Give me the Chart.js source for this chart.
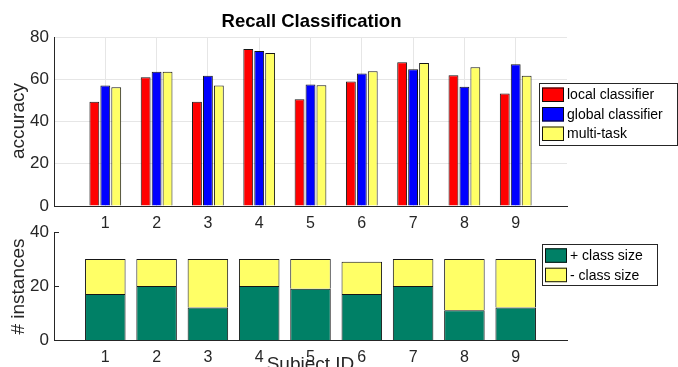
<!DOCTYPE html>
<html>
<head>
<meta charset="utf-8">
<script src="https://cdn.jsdelivr.net/npm/chart.js@4/dist/chart.umd.min.js"></script>
<style>
  html, body { margin: 0; padding: 0; background: #fff; overflow: hidden; }
  #wrap { position: relative; width: 678px; height: 367px; overflow: hidden; }
  canvas { position: absolute; left: 0; }
  #accuracyChart { top: 0; }
  #instancesChart { top: 215px; }
</style>
</head>
<body>
<div id="wrap">
  <canvas id="accuracyChart" width="678" height="235"></canvas>
  <canvas id="instancesChart" width="678" height="152"></canvas>
</div>
<script>
// Subjects and per-subject results
const subjects = [1, 2, 3, 4, 5, 6, 7, 8, 9];
const localClassifier  = [49.3, 60.9, 49.3, 74.3, 50.5, 58.9, 68.0, 61.9, 53.2];
const globalClassifier = [57.0, 63.6, 61.6, 73.4, 57.5, 62.7, 64.7, 56.4, 67.1];
const multiTask        = [56.2, 63.6, 57.0, 72.4, 57.2, 63.8, 67.7, 65.7, 61.6];

// Class sizes per subject
const positiveClassSize = [17, 20, 12, 20, 19, 17, 20, 11, 12];
const negativeClassSize = [13, 10, 18, 10, 11, 12, 10, 19, 18];

// Tick labels
const accuracyTicks = [0, 20, 40, 60, 80];
const instanceTicks = [0, 20, 40];

const FONT = "'Liberation Sans', Arial, Helvetica, sans-serif";
const INK = '#262626';
const GRID = '#e6e6e6';
const EDGE = 'rgba(10,10,10,0.95)';

Chart.defaults.font.family = FONT;
Chart.defaults.font.size = 17;
Chart.defaults.color = INK;
Chart.defaults.animation = false;

const toPoints = (vals) => vals.map((v, i) => ({ x: subjects[i], y: v }));
const setTicks = (list) => (scale) => { scale.ticks = list.map(v => ({ value: v })); };

// Boxed legend drawn from the chart's own datasets
function drawBoxLegend(chart, box) {
  const ctx = chart.ctx;
  ctx.save();
  ctx.fillStyle = '#fff';
  ctx.fillRect(box.x, box.y, box.w, box.h);
  ctx.strokeStyle = INK;
  ctx.lineWidth = 1;
  ctx.strokeRect(box.x + 0.5, box.y + 0.5, box.w - 1, box.h - 1);
  ctx.font = '14px ' + FONT;
  ctx.textBaseline = 'middle';
  ctx.textAlign = 'left';
  chart.data.datasets.forEach((ds, i) => {
    const y = box.y + box.pad + i * box.step;
    ctx.fillStyle = ds.backgroundColor;
    ctx.fillRect(box.x + 3, y, 22, 14.5);
    ctx.strokeStyle = EDGE;
    ctx.strokeRect(box.x + 3.5, y + 0.5, 21, 13.5);
    ctx.fillStyle = '#000';
    ctx.fillText(ds.label, box.x + 28, y + 8);
  });
  ctx.restore();
}

function drawRotated(ctx, text, x, y) {
  ctx.save();
  ctx.translate(x, y);
  ctx.rotate(-Math.PI / 2);
  ctx.textAlign = 'center';
  ctx.textBaseline = 'middle';
  ctx.fillText(text, 0, 0);
  ctx.restore();
}

const accuracyDecor = {
  id: 'accuracyDecor',
  afterDraw(chart) {
    const ctx = chart.ctx;
    const area = chart.chartArea;
    ctx.save();
    ctx.fillStyle = '#000';
    ctx.font = 'bold 18.5px ' + FONT;
    ctx.textAlign = 'center';
    ctx.textBaseline = 'alphabetic';
    ctx.fillText('Recall Classification', (area.left + area.right) / 2 + 1, 27);
    ctx.fillStyle = INK;
    ctx.font = '19px ' + FONT;
    drawRotated(ctx, 'accuracy', 19, 121);
    ctx.restore();
    drawBoxLegend(chart, { x: 539, y: 83, w: 139, h: 63, pad: 4.5, step: 19.5 });
  }
};

const instancesDecor = {
  id: 'instancesDecor',
  afterDraw(chart) {
    const ctx = chart.ctx;
    const area = chart.chartArea;
    const yScale = chart.scales.y;
    ctx.save();
    // inward tick marks on the left axis
    ctx.strokeStyle = INK;
    ctx.lineWidth = 1;
    instanceTicks.forEach(v => {
      const py = Math.round(yScale.getPixelForValue(v)) + 0.5;
      ctx.beginPath();
      ctx.moveTo(area.left, py);
      ctx.lineTo(area.left + 5, py);
      ctx.stroke();
    });
    ctx.fillStyle = INK;
    ctx.font = '19px ' + FONT;
    drawRotated(ctx, '# instances', 19, 71.5);
    ctx.textAlign = 'center';
    ctx.textBaseline = 'alphabetic';
    ctx.fillText('Subject ID', (area.left + area.right) / 2, 155);
    ctx.restore();
    drawBoxLegend(chart, { x: 542, y: 29, w: 116, h: 42, pad: 4.3, step: 19.4 });
  }
};

new Chart(document.getElementById('accuracyChart'), {
  type: 'bar',
  data: {
    datasets: [
      { label: 'local classifier',  data: toPoints(localClassifier),  backgroundColor: '#ff0000' },
      { label: 'global classifier', data: toPoints(globalClassifier), backgroundColor: '#0000ff' },
      { label: 'multi-task',        data: toPoints(multiTask),        backgroundColor: '#ffff66' }
    ]
  },
  options: {
    responsive: false,
    devicePixelRatio: 1,
    layout: { padding: { left: 0, right: 111, top: 37, bottom: 0 } },
    datasets: { bar: { borderColor: EDGE, borderWidth: 1, categoryPercentage: 0.64, barPercentage: 0.9 } },
    plugins: { legend: { display: false }, tooltip: { enabled: false } },
    scales: {
      x: {
        type: 'linear', min: 0, max: 10, offset: false,
        afterBuildTicks: setTicks(subjects),
        afterFit: (s) => { s.height = 29; },
        grid: { color: GRID, drawTicks: false, offset: false },
        border: { color: INK },
        ticks: { padding: 8, autoSkip: false, maxRotation: 0, font: { size: 16 } }
      },
      y: {
        min: 0, max: 80,
        afterBuildTicks: setTicks(accuracyTicks),
        afterFit: (s) => { s.width = 54; },
        grid: { color: GRID, drawTicks: false },
        border: { color: INK },
        ticks: { padding: 5, font: { size: 17 } }
      }
    }
  },
  plugins: [accuracyDecor]
});

new Chart(document.getElementById('instancesChart'), {
  type: 'bar',
  data: {
    datasets: [
      { label: '+ class size', data: toPoints(positiveClassSize), backgroundColor: '#008066' },
      { label: '- class size', data: toPoints(negativeClassSize), backgroundColor: '#ffff66' }
    ]
  },
  options: {
    responsive: false,
    devicePixelRatio: 1,
    layout: { padding: { left: 0, right: 111, top: 17, bottom: 0 } },
    datasets: { bar: { borderColor: EDGE, borderWidth: 1, categoryPercentage: 1, barPercentage: 0.79 } },
    plugins: { legend: { display: false }, tooltip: { enabled: false } },
    scales: {
      x: {
        type: 'linear', min: 0, max: 10, offset: false, stacked: true,
        afterBuildTicks: setTicks(subjects),
        afterFit: (s) => { s.height = 27; },
        grid: { display: false, drawTicks: false, offset: false },
        border: { color: INK },
        ticks: { padding: 8, autoSkip: false, maxRotation: 0, font: { size: 16 } }
      },
      y: {
        min: 0, max: 40, stacked: true,
        afterBuildTicks: setTicks(instanceTicks),
        afterFit: (s) => { s.width = 54; },
        grid: { display: false, drawTicks: false },
        border: { color: INK },
        ticks: { padding: 5, font: { size: 17 } }
      }
    }
  },
  plugins: [instancesDecor]
});
</script>
</body>
</html>
